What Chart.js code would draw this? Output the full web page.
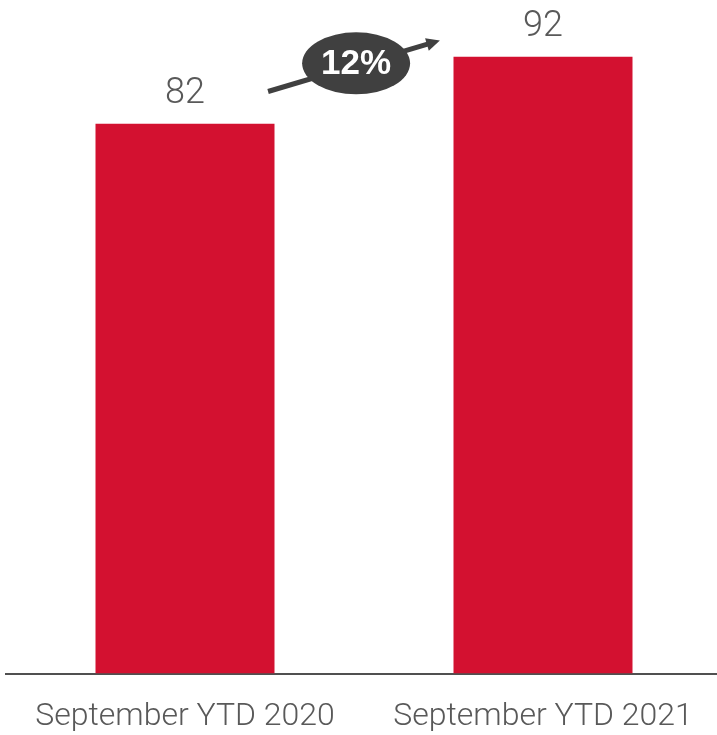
<!DOCTYPE html>
<html>
<head>
<meta charset="utf-8">
<script src="https://cdn.jsdelivr.net/npm/chart.js@4"></script>
<style>
  html, body { margin: 0; padding: 0; overflow: hidden; background: #fff; }
  #chart { display: block; }
</style>
</head>
<body>
<canvas id="chart" width="722" height="735"></canvas>
<script>
const categories = ['September YTD 2020', 'September YTD 2021']
const values = [82, 92]
const growthLabel = '12%'

// growth arrow, in data space (category index, value)
const arrowFrom = [0.232, 86.8]
const arrowTo = [0.712, 94.4]
const bubbleAt = [0.478, 91.0]

const valueLabels = {
  id: 'valueLabels',
  afterDatasetsDraw(chart) {
    const ctx = chart.ctx
    const meta = chart.getDatasetMeta(0)
    ctx.save()
    ctx.font = '300 36px Roboto'
    ctx.fillStyle = '#595959'
    ctx.textAlign = 'center'
    ctx.textBaseline = 'alphabetic'
    meta.data.forEach((bar, i) => {
      ctx.fillText(values[i], bar.x, bar.y - 21)
    })
    ctx.restore()
  },
}

const growthBubble = {
  id: 'growthBubble',
  afterDraw(chart) {
    const ctx = chart.ctx
    const xs = chart.scales.x
    const ys = chart.scales.y
    const x1 = xs.getPixelForValue(arrowFrom[0]), y1 = ys.getPixelForValue(arrowFrom[1])
    const x2 = xs.getPixelForValue(arrowTo[0]), y2 = ys.getPixelForValue(arrowTo[1])
    const cx = xs.getPixelForValue(bubbleAt[0]), cy = ys.getPixelForValue(bubbleAt[1])
    const ang = Math.atan2(y2 - y1, x2 - x1)
    const head = 15

    ctx.save()
    ctx.strokeStyle = '#404040'
    ctx.fillStyle = '#404040'
    ctx.lineWidth = 5
    ctx.beginPath()
    ctx.moveTo(x1, y1)
    ctx.lineTo(x2 - Math.cos(ang) * head * 0.8, y2 - Math.sin(ang) * head * 0.8)
    ctx.stroke()
    ctx.beginPath()
    ctx.moveTo(x2, y2)
    ctx.lineTo(x2 - head * Math.cos(ang - 0.45), y2 - head * Math.sin(ang - 0.45))
    ctx.lineTo(x2 - head * Math.cos(ang + 0.45), y2 - head * Math.sin(ang + 0.45))
    ctx.closePath()
    ctx.fill()

    ctx.beginPath()
    ctx.ellipse(cx, cy, 54, 31, 0, 0, Math.PI * 2)
    ctx.fill()

    ctx.fillStyle = '#ffffff'
    ctx.font = 'bold 35px "Liberation Sans", Arial'
    ctx.textAlign = 'center'
    ctx.textBaseline = 'middle'
    ctx.fillText(growthLabel, cx, cy + 1)
    ctx.restore()
  },
}

new Chart(document.getElementById('chart'), {
  type: 'bar',
  data: {
    labels: categories,
    datasets: [
      {
        data: values,
        backgroundColor: '#d31130',
        barPercentage: 0.5,
        categoryPercentage: 1,
      },
    ],
  },
  options: {
    responsive: false,
    animation: false,
    layout: { padding: { left: 6, right: 0, top: 3, bottom: -25 } },
    plugins: { legend: { display: false }, tooltip: { enabled: false } },
    scales: {
      x: {
        grid: { display: false, drawTicks: false },
        border: { color: '#505050', width: 2 },
        ticks: {
          color: '#595959',
          padding: 24,
          font: { family: 'Roboto', weight: 300, size: 32 },
        },
      },
      y: {
        display: false,
        min: 0,
        max: 100,
      },
    },
  },
  plugins: [valueLabels, growthBubble],
})
</script>
</body>
</html>
